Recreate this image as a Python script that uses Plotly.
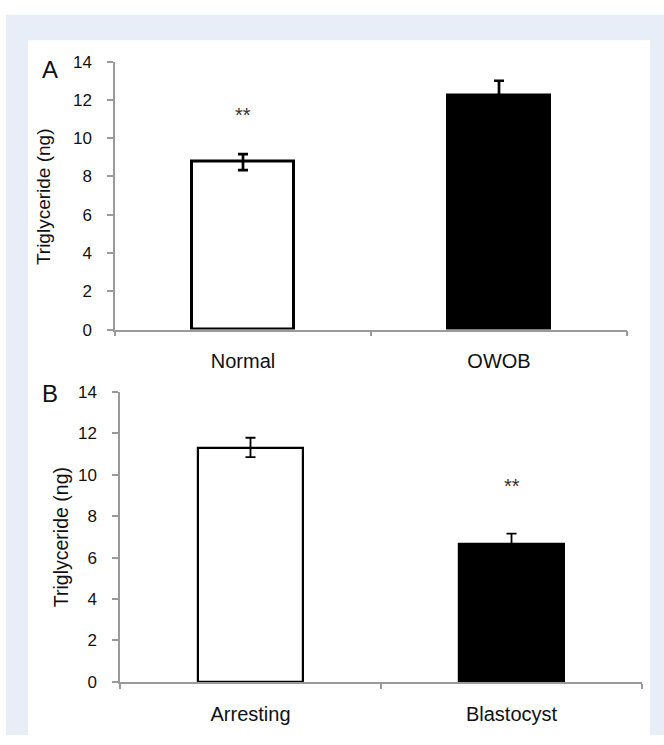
import plotly.graph_objects as go

W, H = 664, 745

# ---- data ----
cats_a = ["Normal", "OWOB"]
vals_a = [8.75, 12.2]
err_a = [0.42, 0.8]
sig_a = ["**", ""]
sig_a_y = [11.2, None]

cats_b = ["Arresting", "Blastocyst"]
vals_b = [11.32, 6.64]
err_b = [0.47, 0.52]
sig_b = ["", "**"]
sig_b_y = [None, 9.44]

y_ticks = [0, 2, 4, 6, 8, 10, 12, 14]
y_title = "Triglyceride (ng)"
panel_labels = ["A", "B"]

fill_colors = ["white", "black"]

def px(x):
    return x / W

def py(y):
    return 1 - y / H

fig = go.Figure()

fig.add_trace(go.Bar(
    x=cats_a, y=vals_a, width=0.4,
    marker=dict(color=fill_colors, line=dict(color="black", width=3)),
    error_y=dict(type="data", array=err_a, color="black", thickness=2.7, width=5),
    xaxis="x", yaxis="y", showlegend=False, hoverinfo="skip",
))
fig.add_trace(go.Bar(
    x=cats_b, y=vals_b, width=0.4,
    marker=dict(color=fill_colors, line=dict(color="black", width=2.2)),
    error_y=dict(type="data", array=err_b, color="black", thickness=1.8, width=5),
    xaxis="x2", yaxis="y2", showlegend=False, hoverinfo="skip",
))

font_family = "Liberation Sans, Arial, sans-serif"
axis_color = "#9a9a9a"

common_x = dict(showline=True, linecolor=axis_color, linewidth=1.5, ticks="outside",
                tickson="boundaries", ticklen=5, tickcolor=axis_color, tickwidth=1.5,
                showgrid=False, zeroline=False, range=[-0.5, 1.5],
                tickfont=dict(size=20, color="#111", family=font_family),
                ticklabelstandoff=13, fixedrange=True)
common_y = dict(showline=True, linecolor=axis_color, linewidth=1.5, ticks="outside",
                ticklen=6, tickcolor=axis_color, tickwidth=1.5, showgrid=False,
                zeroline=False, range=[0, 14], tickvals=y_ticks,
                tickfont=dict(size=17, color="#111", family=font_family),
                ticklabelstandoff=12, fixedrange=True)

fig.update_layout(
    width=W, height=H,
    margin=dict(l=0, r=0, t=0, b=0),
    paper_bgcolor="white", plot_bgcolor="rgba(0,0,0,0)",
    font=dict(family=font_family),
    bargap=0,
    xaxis=dict(domain=[px(115), px(627)], anchor="y", **common_x),
    yaxis=dict(domain=[py(329), py(54)], anchor="x", **common_y),
    xaxis2=dict(domain=[px(120), px(642)], anchor="y2", **common_x),
    yaxis2=dict(domain=[py(690.5), py(393)], anchor="x2", **common_y),
)

shapes = [
    dict(type="rect", xref="paper", yref="paper", x0=px(6), x1=1, y0=0, y1=py(6),
         fillcolor="#e7eef8", line=dict(width=0), layer="below"),
    dict(type="rect", xref="paper", yref="paper", x0=px(28), x1=px(650), y0=0, y1=py(32),
         fillcolor="white", line=dict(width=0), layer="below"),
]
fig.update_layout(shapes=shapes)

ann = []
ann.append(dict(text=y_title, xref="paper", yref="paper", x=px(43), y=py(193),
                textangle=-90, showarrow=False, font=dict(size=19, color="#111"),
                xanchor="center", yanchor="middle"))
ann.append(dict(text=y_title, xref="paper", yref="paper", x=px(61), y=py(542),
                textangle=-90, showarrow=False, font=dict(size=19.5, color="#111"),
                xanchor="center", yanchor="middle"))
ann.append(dict(text=panel_labels[0], xref="paper", yref="paper", x=px(50), y=py(62),
                showarrow=False, font=dict(size=24, color="#111"),
                xanchor="center", yanchor="middle"))
ann.append(dict(text=panel_labels[1], xref="paper", yref="paper", x=px(50), y=py(395),
                showarrow=False, font=dict(size=24, color="#111"),
                xanchor="center", yanchor="middle"))
for c, s, yy in zip(cats_a, sig_a, sig_a_y):
    if s:
        ann.append(dict(text=s, x=c, y=yy, xref="x", yref="y", showarrow=False,
                        font=dict(size=20, color="#333"), yanchor="middle"))
for c, s, yy in zip(cats_b, sig_b, sig_b_y):
    if s:
        ann.append(dict(text=s, x=c, y=yy, xref="x2", yref="y2", showarrow=False,
                        font=dict(size=20, color="#333"), yanchor="middle"))
fig.update_layout(annotations=ann)

fig.write_html("out.html", config={"displayModeBar": False},
               post_script="document.body.style.margin='0';document.body.style.overflow='hidden';")
